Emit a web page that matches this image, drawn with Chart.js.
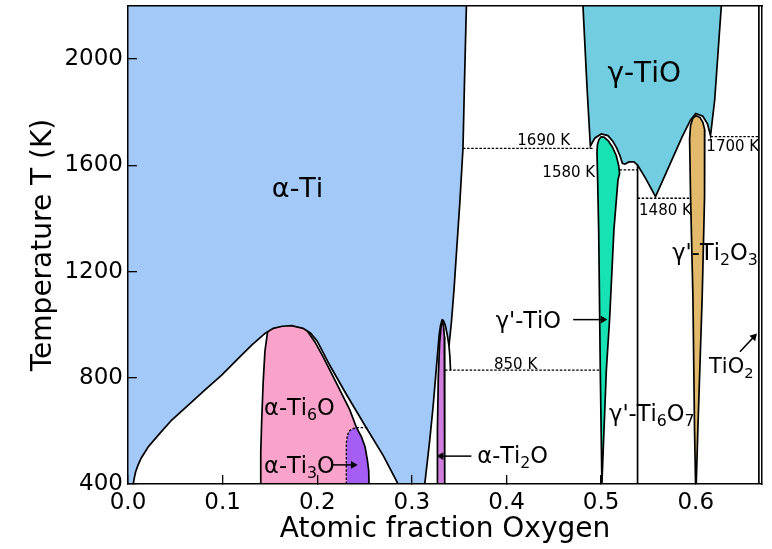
<!DOCTYPE html>
<html><head><meta charset="utf-8">
<script src="https://cdn.jsdelivr.net/npm/chart.js@4/dist/chart.umd.min.js"></script>
<style>html,body{margin:0;padding:0;background:#fff;}canvas{display:block;}</style>
</head><body>
<canvas id="c" width="772" height="549"></canvas>
<script>
// ---- axis ticks ----
const xTicks = [0.0, 0.1, 0.2, 0.3, 0.4, 0.5, 0.6];
const yTicks = [400, 800, 1200, 1600, 2000];

// ---- phase boundary curves [x (atomic fraction O), T (K)] ----
const bigDome = [[0.0056,400],[0.0065,420],[0.0080,445],[0.0105,470],[0.0140,498],[0.0215,540],[0.032,584],[0.0462,641],[0.0637,697],[0.0814,754],[0.099,810],[0.1166,873],[0.1307,923],[0.1448,967],[0.1535,986],[0.1630,994],[0.1728,996],[0.185,986],[0.193,968],[0.200,938],[0.2131,848],[0.2307,738],[0.252,611],[0.2696,508],[0.2854,400]];
const ti6oLeft = [[0.1395,400],[0.1403,520],[0.1413,640],[0.1428,780],[0.1447,900],[0.1475,973]];
const ti6oTop = [[0.1535,986],[0.1630,994],[0.1728,996],[0.185,986]];
const ti6oRight = [[0.1895,976],[0.1975,935],[0.2062,879],[0.2204,779],[0.2344,679],[0.2415,612]];
const ti3oLeft = [[0.2307,400],[0.2307,553],[0.2318,583],[0.2340,600],[0.2372,608],[0.2415,612]];
const ti3oTop = [[0.2415,612],[0.2535,612]];
const ti3oRight = [[0.2415,612],[0.2467,578],[0.2505,540],[0.2530,490],[0.2544,450],[0.2547,400]];
const ti2oDomeLeft = [[0.3136,400],[0.3165,490],[0.3189,566],[0.3224,691],[0.3260,842],[0.3288,960],[0.3302,995],[0.3320,1020]];
const ti2oDomeRight = [[0.3320,1020],[0.3338,1012],[0.3355,995],[0.3375,960],[0.3392,920],[0.3402,879],[0.3408,829]];
const alphaTiRight = [[0.3576,2200],[0.3555,1900],[0.3540,1664],[0.3505,1450],[0.3473,1281],[0.3445,1131],[0.3418,1010],[0.3392,920]];
const ti2oBar = [[0.3266,400],[0.3270,600],[0.3279,800],[0.3293,930],[0.3308,990],[0.3321,1012],[0.3334,1000],[0.3343,955],[0.3347,880],[0.3347,400]];
const tealOutline = [[0.4808,2200],[0.4850,1900],[0.4886,1672],[0.4905,1685],[0.4935,1703],[0.5002,1718],[0.5072,1712],[0.5125,1690],[0.5165,1665],[0.5200,1635],[0.5225,1608],[0.5252,1605],[0.5294,1613],[0.5347,1613],[0.5385,1601],[0.5470,1551],[0.5575,1482],[0.5716,1595],[0.5857,1708],[0.5945,1771],[0.6000,1795],[0.6075,1785],[0.6125,1755],[0.6156,1712],[0.6200,1846],[0.6270,2200]];
const greenOutline = [[0.5008,400],[0.4991,829],[0.4974,1357],[0.4963,1545],[0.4956,1650],[0.4962,1680],[0.4978,1698],[0.5000,1707],[0.5030,1706],[0.5075,1692],[0.5120,1668],[0.5160,1636],[0.5185,1600],[0.5195,1570],[0.5178,1545],[0.5135,1357],[0.5090,1024],[0.5055,829],[0.5008,400]];
const goldOutline = [[0.5998,400],[0.5987,603],[0.5970,1105],[0.5945,1482],[0.5935,1700],[0.5945,1750],[0.5970,1778],[0.6005,1787],[0.6045,1780],[0.6075,1762],[0.6095,1733],[0.6093,1482],[0.6068,1105],[0.6022,603],[0.6005,400]];
const ti6o7Line = [[0.5385,400],[0.5385,1601]];
const tio2Line = [[0.6667,400],[0.6667,2200]];

// ---- isotherms (dotted) ----
const line850 = [[0.3350,829],[0.4988,829]];
const line1690 = [[0.3540,1664],[0.4910,1664]];
const line1580 = [[0.5195,1583],[0.5385,1583]];
const line1480 = [[0.5385,1476],[0.5945,1476]];
const line1700 = [[0.6156,1708],[0.6667,1708]];

// ---- arrows [start, head] and head rotation (deg) ----
const arrowTi3O = [[0.2165,472],[0.2380,472]];
const arrowTi2O = [[0.3629,505],[0.3309,505]];
const arrowTiO = [[0.4704,1019],[0.5020,1019]];
const arrowTiO2 = [[0.6467,898],[0.6614,954]];
const arrowRot = [90, -90, 90, 43];

// ---- text labels ----
const labelTexts = ['α-Ti','γ-TiO','α-Ti_6O','α-Ti_3O','α-Ti_2O',"γ'-TiO","γ'-Ti_6O_7","γ'-Ti_2O_3",'TiO_2','1690 K','1580 K','1480 K','1700 K','850 K'];
const labelX = [0.1520,0.5066,0.1438,0.1438,0.3692,0.3886,0.5084,0.5752,0.6140,0.4114,0.4379,0.5401,0.6112,0.3868];
const labelY = [1517,1952,691,472,509,1017,666,1275,846,1698,1576,1432,1674,854];
const labelSize = [27,28,22.5,22.5,22.5,22.5,22.5,22.5,21,15,15,15,15,15];

// ---- colours ----
const colBlue='#a3c9f9', colPink='#f9a3cb', colTi3O='#a65df4', colTi2O='#d17de0', colTeal='#72cde0', colGreen='#17e2b3', colGold='#e3b96b';

// ---- build datasets ----
const xy = pts => pts.map(p => ({x:p[0], y:p[1]}));
function shapeData(pts){
  let iMin=0, iMax=0;
  pts.forEach((p,i)=>{ if(p[0]<pts[iMin][0]) iMin=i; if(p[0]>pts[iMax][0]) iMax=i; });
  const rot = pts.slice(iMin).concat(pts.slice(0,iMin));
  rot.push(pts[iMin]); rot.push(pts[iMax]);
  return xy(rot);
}
const bluePoly = [[0,400],[0,2200]].concat(alphaTiRight, ti2oDomeRight.slice(0,5).reverse(), ti2oDomeLeft.slice().reverse(), bigDome.slice().reverse());
const pinkPoly = ti6oLeft.concat(ti6oTop, ti6oRight, ti3oLeft.slice().reverse());
const ti3oPoly = ti3oLeft.concat(ti3oRight);

function fillSet(pts, color){
  return {data: shapeData(pts), backgroundColor: color, borderColor:'rgba(0,0,0,0)', borderWidth:0, fill:'shape', pointRadius:0, order:10};
}
function lineSet(pts, dashed){
  return {data: xy(pts), borderColor:'#000', borderWidth: dashed?1.3:1.7, borderDash: dashed?[2.5,1.6]:[], fill:false, pointRadius:0, order:1};
}
function arrowSet(pts, rot){
  return {data: xy(pts), borderColor:'#000', borderWidth:1.5, fill:false, pointRadius:[0,4.5], pointStyle:'triangle', pointRotation:[0,rot], pointBackgroundColor:'#000', pointBorderColor:'#000', pointBorderWidth:0, order:1};
}

const datasets = [
  fillSet(bluePoly, colBlue), fillSet(pinkPoly, colPink), fillSet(ti3oPoly, colTi3O), fillSet(ti2oBar, colTi2O),
  fillSet(tealOutline, colTeal), fillSet(greenOutline, colGreen), fillSet(goldOutline, colGold),
  lineSet(bigDome), lineSet(ti6oLeft), lineSet(ti6oRight), lineSet(ti3oRight), lineSet(ti3oLeft,true), lineSet(ti3oTop,true),
  lineSet(ti2oDomeLeft), lineSet(ti2oDomeRight), lineSet(alphaTiRight), lineSet(ti2oBar),
  lineSet(tealOutline), lineSet(greenOutline), lineSet(goldOutline), lineSet(ti6o7Line), lineSet(tio2Line),
  lineSet(line850,true), lineSet(line1690,true), lineSet(line1580,true), lineSet(line1480,true), lineSet(line1700,true),
  arrowSet(arrowTi3O, arrowRot[0]), arrowSet(arrowTi2O, arrowRot[1]), arrowSet(arrowTiO, arrowRot[2]), arrowSet(arrowTiO2, arrowRot[3])
];

const FONT = 'DejaVu Sans';
function drawRich(ctx, txt, x, yMid, fs){
  const base = yMid + 0.36*fs;
  let cx = x;
  ctx.textAlign = 'left'; ctx.textBaseline = 'alphabetic'; ctx.fillStyle = '#000';
  for (let i=0;i<txt.length;i++){
    let ch = txt[i], sub = false;
    if (ch === '_'){ sub = true; ch = txt[++i]; }
    ctx.font = (sub ? fs*0.7 : fs) + 'px "' + FONT + '"';
    ctx.fillText(ch, cx, sub ? base + 0.22*fs : base);
    cx += ctx.measureText(ch).width;
  }
}
const labelPlugin = {
  id: 'phaseLabels',
  afterDatasetsDraw(chart){
    const ctx = chart.ctx, xs = chart.scales.x, ys = chart.scales.y;
    ctx.save();
    labelTexts.forEach((t,i)=> drawRich(ctx, t, xs.getPixelForValue(labelX[i]), ys.getPixelForValue(labelY[i]), labelSize[i]));
    ctx.restore();
  }
};

function noPad(s){ s.paddingTop = 0; s.paddingBottom = 0; s.paddingLeft = 0; s.paddingRight = 0; }
const frame = {display:true, color:'#000', width:1.5, z:1};
new Chart(document.getElementById('c'), {
  type: 'line',
  data: { datasets },
  options: {
    responsive: false, animation: false, devicePixelRatio: 1,
    layout: { padding: { top: 6, right: 10, left: 0, bottom: 0 } },
    plugins: { legend: {display:false}, tooltip: {enabled:false} },
    elements: { line: { tension: 0 }, point: { radius: 0 } },
    scales: {
      x: {
        type:'linear', position:'bottom', min:0, max:0.67,
        afterBuildTicks: s => { s.ticks = xTicks.map(v => ({value:v})); },
        afterFit: s => { s.height = 65; noPad(s); },
        ticks: { callback: v => Number(v).toFixed(1), color:'#000', font:{family:FONT, size:23}, padding:14, maxRotation:0, autoSkip:false },
        grid: { drawOnChartArea:false, drawTicks:true, tickLength:-9, color:'#000', lineWidth:1.3, z:1 },
        border: frame,
        title: { display:true, text:'Atomic fraction Oxygen', color:'#000', font:{family:FONT, size:28}, padding:{top:0, bottom:2} }
      },
      y: {
        type:'linear', position:'left', min:400, max:2200,
        afterBuildTicks: s => { s.ticks = yTicks.map(v => ({value:v})); },
        afterFit: s => { s.width = 128; noPad(s); },
        ticks: { callback: v => String(v), color:'#000', font:{family:FONT, size:23}, padding:14, autoSkip:false },
        grid: { drawOnChartArea:false, drawTicks:true, tickLength:-9, color:'#000', lineWidth:1.3, z:1 },
        border: frame,
        title: { display:true, text:'Temperature T (K)', color:'#000', font:{family:FONT, size:28}, padding:{top:27, bottom:0} }
      },
      x2: { type:'linear', position:'top', display:true, ticks:{display:false}, grid:{display:false, drawTicks:false}, border: frame, afterFit: s => { s.height = 0; noPad(s); } },
      y2: { type:'linear', position:'right', display:true, ticks:{display:false}, grid:{display:false, drawTicks:false}, border: frame, afterFit: s => { s.width = 0; noPad(s); } }
    }
  },
  plugins: [labelPlugin]
});
</script>
</body></html>
